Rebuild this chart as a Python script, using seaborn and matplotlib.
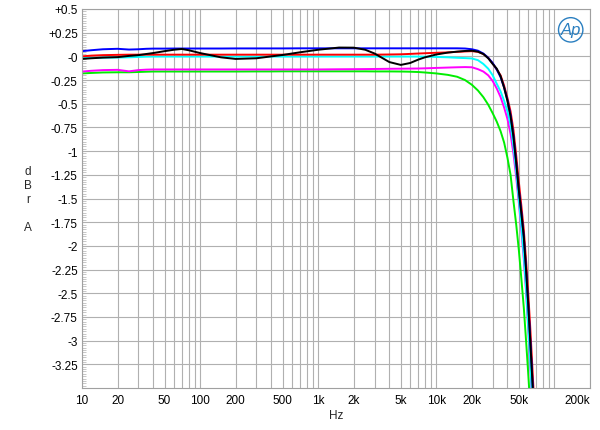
import numpy as np
import pandas as pd
import matplotlib
matplotlib.use("Agg")
import matplotlib.pyplot as plt
import seaborn as sns
from matplotlib.ticker import FixedLocator, NullFormatter

# ---------------- data ----------------
freqs = [10, 12, 15, 20, 25, 30, 35, 40, 50, 60, 70, 80, 100, 150, 200, 300, 400, 500,
         700, 1000, 1500, 2000, 2500, 3000, 4000, 5000, 6000, 7000, 8000, 10000,
         12500, 15000, 17500, 20000, 22500, 25000, 27500, 30000, 32500, 35000, 37500,
         40000, 42500, 45000, 47500, 50000, 52500, 55000, 57500, 60000, 62500, 65000, 67500]

db_black = [-0.027, -0.02, -0.013, -0.008, 0.005, 0.013, 0.025, 0.035, 0.055, 0.07, 0.078,
            0.065, 0.035, -0.01, -0.027, -0.02, 0.0, 0.015, 0.043, 0.07, 0.093, 0.092,
            0.07, 0.03, -0.06, -0.09, -0.07, -0.035, -0.01, 0.02, 0.04, 0.05, 0.057, 0.06,
            0.05, 0.025, -0.02, -0.08, -0.13, -0.21, -0.33, -0.47, -0.63, -0.85, -1.13,
            -1.42, -1.66, -1.9, -2.25, -2.62, -3.02, -3.42, -3.8]

db_blue = [0.055, 0.065, 0.075, 0.08, 0.072, 0.075, 0.08, 0.082, 0.082, 0.083, 0.083,
           0.083, 0.083, 0.083, 0.084, 0.084, 0.084, 0.084, 0.085, 0.085, 0.085, 0.085,
           0.085, 0.085, 0.085, 0.085, 0.085, 0.085, 0.085, 0.085, 0.085, 0.085, 0.083,
           0.075, 0.06, 0.03, -0.015, -0.07, -0.14, -0.22, -0.33, -0.46, -0.62, -0.84,
           -1.12, -1.41, -1.65, -1.9, -2.24, -2.61, -3.0, -3.4, -3.8]

db_red = [0.0, 0.008, 0.013, 0.016, 0.018, 0.018, 0.018, 0.018, 0.018, 0.018, 0.018,
          0.018, 0.018, 0.018, 0.018, 0.018, 0.018, 0.018, 0.018, 0.018, 0.018, 0.018,
          0.018, 0.018, 0.02, 0.022, 0.026, 0.03, 0.033, 0.038, 0.042, 0.048, 0.052,
          0.055, 0.048, 0.025, -0.015, -0.075, -0.14, -0.2, -0.31, -0.44, -0.58, -0.78,
          -1.05, -1.33, -1.58, -1.83, -2.15, -2.5, -2.88, -3.28, -3.68]

db_cyan = [-0.018, -0.017, -0.014, -0.012, -0.01, -0.006, -0.003, -0.002, -0.002, -0.002,
           -0.002, -0.002, -0.002, -0.002, -0.002, -0.002, -0.002, -0.002, -0.002, -0.002,
           -0.002, -0.002, -0.002, -0.002, -0.002, -0.002, -0.002, -0.002, -0.003, -0.006,
           -0.01, -0.015, -0.018, -0.022, -0.04, -0.08, -0.13, -0.2, -0.29, -0.37, -0.47,
           -0.58, -0.72, -0.95, -1.22, -1.52, -1.8, -2.1, -2.45, -2.85, -3.25, -3.65, -4.0]

db_magenta = [-0.16, -0.152, -0.145, -0.142, -0.158, -0.145, -0.14, -0.138, -0.138, -0.138,
              -0.138, -0.138, -0.138, -0.138, -0.138, -0.138, -0.138, -0.138, -0.138,
              -0.138, -0.136, -0.135, -0.134, -0.133, -0.131, -0.13, -0.129, -0.128,
              -0.126, -0.122, -0.118, -0.115, -0.113, -0.115, -0.135, -0.16, -0.2, -0.26,
              -0.34, -0.43, -0.54, -0.66, -0.82, -1.03, -1.28, -1.55, -1.84, -2.14, -2.48,
              -2.88, -3.28, -3.68, -4.05]

db_green = [-0.18, -0.175, -0.17, -0.168, -0.168, -0.165, -0.162, -0.16, -0.16, -0.16,
            -0.16, -0.16, -0.16, -0.16, -0.16, -0.159, -0.159, -0.158, -0.158, -0.158,
            -0.158, -0.158, -0.158, -0.159, -0.159, -0.16, -0.162, -0.165, -0.17, -0.18,
            -0.195, -0.215, -0.25, -0.3, -0.36, -0.43, -0.51, -0.6, -0.69, -0.79, -0.91,
            -1.07, -1.25, -1.53, -1.78, -2.05, -2.35, -2.65, -3.0, -3.35, -3.7, -4.05, -4.4]

series_names = ["green", "magenta", "cyan", "red", "blue", "black"]
series_values = [db_green, db_magenta, db_cyan, db_red, db_blue, db_black]
series_colors = ["#00ee00", "#ff00ff", "#00ffff", "#ff0000", "#0000ff", "#000000"]

x_tick_values = [10, 20, 50, 100, 200, 500, 1000, 2000, 5000, 10000, 20000, 50000, 200000]
x_tick_labels = ["10", "20", "50", "100", "200", "500", "1k", "2k", "5k", "10k", "20k", "50k", "200k"]
y_tick_values = [0.5, 0.25, 0, -0.25, -0.5, -0.75, -1, -1.25, -1.5, -1.75, -2, -2.25,
                 -2.5, -2.75, -3, -3.25]
y_tick_labels = ["+0.5", "+0.25", "-0", "-0.25", "-0.5", "-0.75", "-1", "-1.25", "-1.5",
                 "-1.75", "-2", "-2.25", "-2.5", "-2.75", "-3", "-3.25"]

# ---------------- plot ----------------
sns.set_style("white")
plt.rcParams["font.family"] = ["Liberation Sans", "DejaVu Sans"]

fig = plt.figure(figsize=(6.0, 4.31), dpi=100)
ax = fig.add_axes([82 / 600, 1 - 389 / 431, 508 / 600, 379 / 431])

df = pd.DataFrame({"freq": np.tile(freqs, len(series_names)),
                   "db": np.concatenate(series_values),
                   "series": np.repeat(series_names, len(freqs))})

for name, col in zip(series_names, series_colors):
    sub = df[df["series"] == name]
    sns.lineplot(data=sub, x="freq", y="db", color=col, lw=1.4, ax=ax,
                 sort=False, estimator=None, legend=False)

ax.set_xscale("log")
ax.set_xlim(10, 200000)
ax.set_ylim(-3.5, 0.5)

# grid
minor_x = []
for dec in [10, 100, 1000, 10000, 100000]:
    for m in range(1, 10):
        v = dec * m
        if v <= 200000 and v not in x_tick_values:
            minor_x.append(v)
ax.xaxis.set_major_locator(FixedLocator(x_tick_values))
ax.xaxis.set_minor_locator(FixedLocator(minor_x))
ax.set_xticklabels(x_tick_labels)
ax.xaxis.set_minor_formatter(NullFormatter())
ax.set_yticks(y_tick_values)
ax.set_yticklabels(y_tick_labels)
ax.yaxis.set_minor_locator(FixedLocator(np.arange(-3.5, 0.5001, 0.025)))

ax.xaxis.grid(True, which="both", color="#b0b0b0", lw=0.8)
ax.yaxis.grid(True, which="major", color="#b0b0b0", lw=0.8)
ax.set_axisbelow(True)

fs = 8.5
ax.tick_params(axis="x", which="both", length=0, pad=4, labelsize=fs, colors="black")
ax.tick_params(axis="y", which="major", length=0, pad=3, labelsize=fs, colors="black")
ax.tick_params(axis="y", which="minor", length=3, width=0.5, direction="in",
               color="#b0b0b0", left=True)

for lab in ax.get_xticklabels():
    if lab.get_text() == "200k":
        lab.set_horizontalalignment("right")

for sp in ax.spines.values():
    sp.set_color("#a0a0a0")
    sp.set_linewidth(0.8)

ax.set_xlabel("")
ax.set_ylabel("")
fig.text(336 / 600, 1 - 416 / 431, "Hz", ha="center", va="center", fontsize=fs)
fig.text(28 / 600, 1 - 200 / 431, "d\nB\nr\n\nA", ha="center", va="center",
         fontsize=fs, linespacing=1.2)

# AP logo
ax.text(0.962, 0.945, "Ap", transform=ax.transAxes, ha="center", va="center",
        fontsize=12, fontstyle="italic", color="#2a7fc0",
        bbox=dict(boxstyle="circle,pad=0.12", fc="none", ec="#2a7fc0", lw=1.0))

fig.savefig("out.png", dpi=100)
